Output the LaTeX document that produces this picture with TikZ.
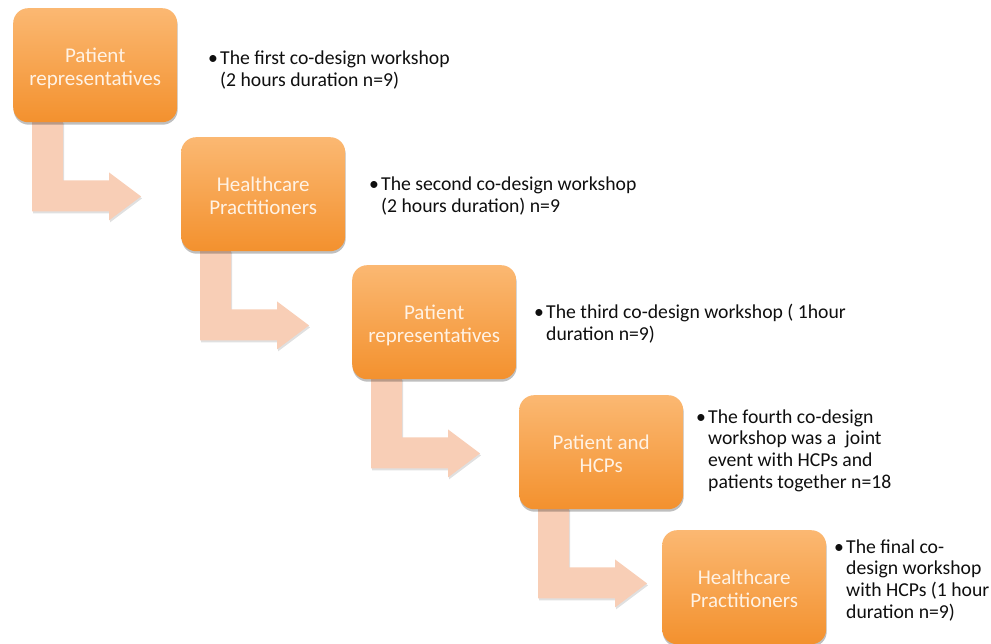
\documentclass[tikz,border=0pt]{standalone}
\usepackage{fontspec}
\setmainfont{Carlito}
\usetikzlibrary{calc,shadows,backgrounds}
\definecolor{boxtop}{RGB}{251,184,114}
\definecolor{boxbot}{RGB}{243,145,46}
\definecolor{boxtxt}{RGB}{255,242,228}
\definecolor{arrowfill}{RGB}{248,206,182}
\definecolor{bodytxt}{RGB}{15,15,15}
\begin{document}
\begin{tikzpicture}[x=1pt,y=-1pt,
  stagebox/.style={anchor=north west, minimum width=164pt, minimum height=114pt,
    rounded corners=15pt, top color=boxtop, bottom color=boxbot, draw=none,
    text=boxtxt, inner sep=0pt,
    font=\fontsize{21}{23}\selectfont,
    drop shadow={shadow xshift=0.5pt, shadow yshift=-2.5pt, opacity=0.25, fill=black}},
  bullettext/.style={anchor=base west, inner sep=0pt, text=bodytxt,
    font=\fontsize{19.7}{21.7}\selectfont},
  bentarrow/.style={fill=arrowfill, draw=none,
    drop shadow={shadow xshift=1pt, shadow yshift=-2pt, opacity=0.12, fill=black}}
]
\useasboundingbox (0,0) rectangle (991,644);

\newcommand{\boxlabel}[2]{\raisebox{-4pt}[\height][\depth]{\begin{tabular}{@{}c@{}}#1\\#2\end{tabular}}}
\node[stagebox] (b1) at (13,8)    {\boxlabel{Patient}{representatives}};
\node[stagebox] (b2) at (181,137) {\boxlabel{Healthcare}{Practitioners}};
\node[stagebox] (b3) at (352,265) {\boxlabel{Patient}{representatives}};
\node[stagebox] (b4) at (519,395) {\boxlabel{Patient and}{HCPs}};
\node[stagebox] (b5) at (662,530) {\boxlabel{Healthcare}{Practitioners}};

\begin{scope}[on background layer]
\fill[white] (0,0) rectangle (991,644);
\foreach \b in {b1,b2,b3,b4}{
  \path[bentarrow] ($(\b.south west)+(19,-1)$) -- ($(\b.south west)+(50,-1)$)
     -- ($(\b.south west)+(50,58)$) -- ($(\b.south west)+(96,58)$)
     -- ($(\b.south west)+(96,50)$) -- ($(\b.south west)+(128,74)$)
     -- ($(\b.south west)+(96,98)$) -- ($(\b.south west)+(96,89)$)
     -- ($(\b.south west)+(19,89)$) -- cycle;
}
\end{scope}

\newcommand{\bul}{\makebox[12pt][l]{\textbullet}}
\node[bullettext] (t1) at (208,65) {\begin{tabular}[t]{@{}l@{}l@{}}\bul & The first co-design workshop\\ & (2 hours duration n=9)\end{tabular}};
\node[bullettext] (t2) at (369,191) {\begin{tabular}[t]{@{}l@{}l@{}}\bul & The second co-design workshop\\ & (2 hours duration) n=9\end{tabular}};
\node[bullettext] (t3) at (534,319) {\begin{tabular}[t]{@{}l@{}l@{}}\bul & The third co-design workshop ( 1hour\\ & duration n=9)\end{tabular}};
\node[bullettext] (t4) at (696,423) {\begin{tabular}[t]{@{}l@{}l@{}}\bul & The fourth co-design\\ & workshop was a\ \ joint\\ & event with HCPs and\\ & patients together n=18\end{tabular}};
\node[bullettext] (t5) at (834,553) {\begin{tabular}[t]{@{}l@{}l@{}}\bul & The final co-\\ & design workshop\\ & with HCPs (1 hour\\ & duration n=9)\end{tabular}};
\end{tikzpicture}
\end{document}
